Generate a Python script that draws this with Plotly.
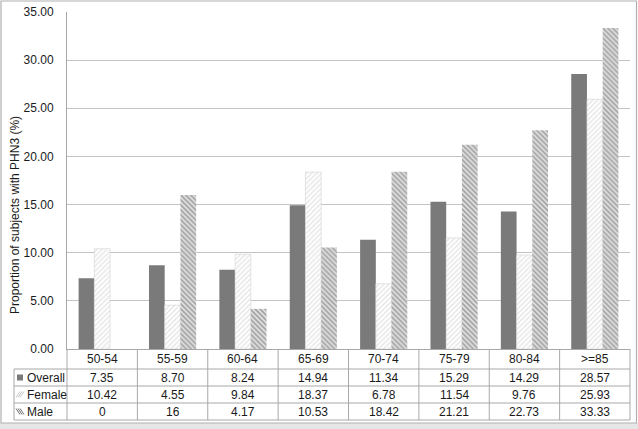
import plotly.graph_objects as go

age_groups = ['50-54', '55-59', '60-64', '65-69', '70-74', '75-79', '80-84', '>=85']
overall = [7.35, 8.70, 8.24, 14.94, 11.34, 15.29, 14.29, 28.57]
female = [10.42, 4.55, 9.84, 18.37, 6.78, 11.54, 9.76, 25.93]
male = [0, 16, 4.17, 10.53, 18.42, 21.21, 22.73, 33.33]
overall_txt = ['7.35', '8.70', '8.24', '14.94', '11.34', '15.29', '14.29', '28.57']
female_txt = ['10.42', '4.55', '9.84', '18.37', '6.78', '11.54', '9.76', '25.93']
male_txt = ['0', '16', '4.17', '10.53', '18.42', '21.21', '22.73', '33.33']

W, H = 638, 429
L, R, T, B = 67, 630, 12, 349   # plot area in pixels

def px(x):
    return (x - L) / (R - L)

def py(y):
    return (B - y) / (B - T)

font = dict(family="Liberation Sans, Arial", size=12, color="#1a1a1a")
grid = "#c4c4c4"
tline = "#a8a8a8"

fig = go.Figure()
fig.add_trace(go.Bar(
    name="Overall", x=age_groups, y=overall,
    marker=dict(color="#7a7a7a", line=dict(width=0)),
))
fig.add_trace(go.Bar(
    name="Female", x=age_groups, y=female,
    marker=dict(color="white", line=dict(width=0.6, color="#d4d4d4"),
                pattern=dict(shape="/", fgcolor="#c4c4c4", bgcolor="white",
                             size=3.5, solidity=0.35)),
))
fig.add_trace(go.Bar(
    name="Male", x=age_groups, y=male,
    marker=dict(color="white", line=dict(width=0),
                pattern=dict(shape="\\", fgcolor="#646464", bgcolor="#e2e2e2",
                             size=3.5, solidity=0.5)),
))

shapes = []
annotations = []

# outer frame and grey strip at the bottom
shapes.append(dict(type="rect", xref="paper", yref="paper", layer="below",
                   x0=px(0), x1=px(W), y0=py(H), y1=py(423),
                   fillcolor="#e6e6e6", line=dict(width=0)))
shapes.append(dict(type="rect", xref="paper", yref="paper", layer="below",
                   x0=px(1), x1=px(636.5), y0=py(423), y1=py(1),
                   fillcolor="rgba(0,0,0,0)", line=dict(width=1.2, color="#b0b0b0")))

# data table grid
row_lines = [369, 386, 403, 420]
for y in row_lines:
    shapes.append(dict(type="line", xref="paper", yref="paper",
                       x0=px(14), x1=px(R), y0=py(y), y1=py(y),
                       line=dict(width=1, color=tline)))
shapes.append(dict(type="line", xref="paper", yref="paper",
                   x0=px(14), x1=px(14), y0=py(369), y1=py(420),
                   line=dict(width=1, color=tline)))
ncat = len(age_groups)
for i in range(ncat + 1):
    x = L + i * (R - L) / ncat
    shapes.append(dict(type="line", xref="paper", yref="paper",
                       x0=px(x), x1=px(x), y0=py(B), y1=py(420),
                       line=dict(width=1, color=tline)))

row_centers = [359, 377.5, 394.5, 411.5]
for i, g in enumerate(age_groups):
    annotations.append(dict(x=g, xref="x", y=py(row_centers[0]), yref="paper",
                            xanchor="center", yanchor="middle",
                            text=g, showarrow=False, font=font))
    for txt, yc in zip([overall_txt[i], female_txt[i], male_txt[i]], row_centers[1:]):
        annotations.append(dict(x=g, xref="x", y=py(yc), yref="paper",
                                xanchor="center", yanchor="middle",
                                text=txt, showarrow=False, font=font))

series_names = ["Overall", "Female", "Male"]
for name, yc in zip(series_names, row_centers[1:]):
    annotations.append(dict(x=px(25), xref="paper", y=py(yc), yref="paper",
                            xanchor="left", yanchor="middle",
                            text=name, showarrow=False, font=font))

# legend keys inside the table
yc = row_centers[1]
shapes.append(dict(type="rect", xref="paper", yref="paper",
                   x0=px(17), x1=px(23), y0=py(yc + 3), y1=py(yc - 3),
                   fillcolor="#7a7a7a", line=dict(width=0)))
for k in range(3):
    yc = row_centers[2]
    shapes.append(dict(type="line", xref="paper", yref="paper",
                       x0=px(16 + 2 * k), x1=px(20 + 2 * k), y0=py(yc + 3), y1=py(yc - 3),
                       line=dict(width=1, color="#c8c8c8")))
    yc = row_centers[3]
    shapes.append(dict(type="line", xref="paper", yref="paper",
                       x0=px(16 + 2 * k), x1=px(20 + 2 * k), y0=py(yc - 3), y1=py(yc + 3),
                       line=dict(width=1, color="#707070")))

# y axis title
annotations.append(dict(x=px(15), xref="paper", y=py(215), yref="paper",
                        xanchor="center", yanchor="middle",
                        text="Proportion of subjects with PHN3 (%)", textangle=-90,
                        showarrow=False, font=font))

fig.update_layout(
    width=W, height=H,
    margin=dict(l=L, r=W - R, t=T, b=H - B, pad=0, autoexpand=False),
    paper_bgcolor="white",
    plot_bgcolor="rgba(0,0,0,0)",
    barmode="group",
    bargap=0.33,
    bargroupgap=0,
    showlegend=False,
    font=font,
    xaxis=dict(showticklabels=False, ticks="", showline=True, linecolor=tline,
               linewidth=1, showgrid=False, zeroline=False),
    yaxis=dict(range=[0, 35], dtick=5, tickformat=".2f", showgrid=True,
               gridcolor=grid, gridwidth=1, zeroline=False, showline=True,
               linecolor=tline, linewidth=1, ticks="", ticklabelstandoff=10),
    shapes=shapes,
    annotations=annotations,
)

fig.write_html("out.html", config={"displayModeBar": False},
               post_script="document.body.style.margin='0';")
